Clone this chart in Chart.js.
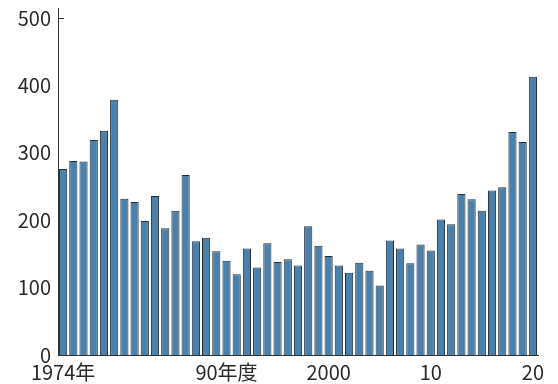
<!DOCTYPE html>
<html>
<head>
<meta charset="utf-8">
<script src="https://cdn.jsdelivr.net/npm/chart.js@4.4.1/dist/chart.umd.min.js"></script>
<style>
  html, body { margin: 0; padding: 0; background: #fff; }
  #wrap { width: 558px; height: 384px; position: relative; }
</style>
</head>
<body>
<div id="wrap"><canvas id="myChart"></canvas></div>
<script>
// 年度
const years = [1974, 1975, 1976, 1977, 1978, 1979, 1980, 1981, 1982, 1983,
  1984, 1985, 1986, 1987, 1988, 1989, 1990, 1991, 1992, 1993,
  1994, 1995, 1996, 1997, 1998, 1999, 2000, 2001, 2002, 2003,
  2004, 2005, 2006, 2007, 2008, 2009, 2010, 2011, 2012, 2013,
  2014, 2015, 2016, 2017, 2018, 2019, 2020];

// 件数
const values = [276, 288, 287, 319, 333, 379, 232, 227, 199, 236,
  188, 214, 267, 169, 174, 154, 140, 120, 158, 130,
  166, 138, 142, 133, 191, 162, 147, 133, 122, 137,
  125, 103, 170, 158, 136, 164, 155, 201, 194, 239,
  231, 214, 244, 249, 331, 316, 413];

// 軸ラベル
const xTickLabels = { 1974: "1974年", 1990: "90年度", 2000: "2000", 2010: "10", 2020: "20" };
const yTicks = [0, 100, 200, 300, 400, 500];

const FONT = "'Noto Sans CJK JP', 'Noto Sans', sans-serif";

// 500の目盛り線（内側）
const innerTick = {
  id: "innerTick",
  afterDraw(chart) {
    const y = chart.scales.y;
    const ctx = chart.ctx;
    const py = Math.round(y.getPixelForValue(500)) + 0.5;
    ctx.save();
    ctx.strokeStyle = "#333";
    ctx.lineWidth = 1;
    ctx.beginPath();
    ctx.moveTo(y.right, py);
    ctx.lineTo(y.right + 6, py);
    ctx.stroke();
    ctx.restore();
  }
};

const ctx = document.getElementById("myChart").getContext("2d");
new Chart(ctx, {
  type: "bar",
  data: {
    labels: years,
    datasets: [{
      data: values,
      backgroundColor: "#4a80aa",
      borderColor: "#22303c",
      borderWidth: 1,
      barPercentage: 0.8,
      categoryPercentage: 1.0
    }]
  },
  options: {
    responsive: true,
    maintainAspectRatio: false,
    animation: false,
    layout: { padding: { top: 8, right: 20, left: 0, bottom: 0 } },
    plugins: {
      legend: { display: false },
      tooltip: { enabled: false }
    },
    scales: {
      x: {
        grid: { display: false, drawTicks: false },
        border: { display: true, color: "#333", width: 1 },
        afterFit: s => { s.height = 29; s.paddingLeft = 0; s.paddingRight = 0; },
        ticks: {
          autoSkip: false,
          maxRotation: 0,
          padding: 5,
          color: "#2a2a2a",
          font: { family: FONT, size: 20 },
          callback: function (v, i) {
            const yr = years[i];
            return xTickLabels[yr] || "";
          }
        }
      },
      y: {
        min: 0,
        max: 515,
        grid: { display: false, drawTicks: false },
        border: { display: true, color: "#333", width: 1 },
        afterFit: s => { s.width = 58; s.paddingTop = 0; s.paddingBottom = 0; },
        afterBuildTicks: s => { s.ticks = yTicks.map(v => ({ value: v })); },
        ticks: {
          padding: 7,
          color: "#2a2a2a",
          font: { family: FONT, size: 20 }
        }
      }
    }
  },
  plugins: [innerTick]
});
</script>
</body>
</html>
